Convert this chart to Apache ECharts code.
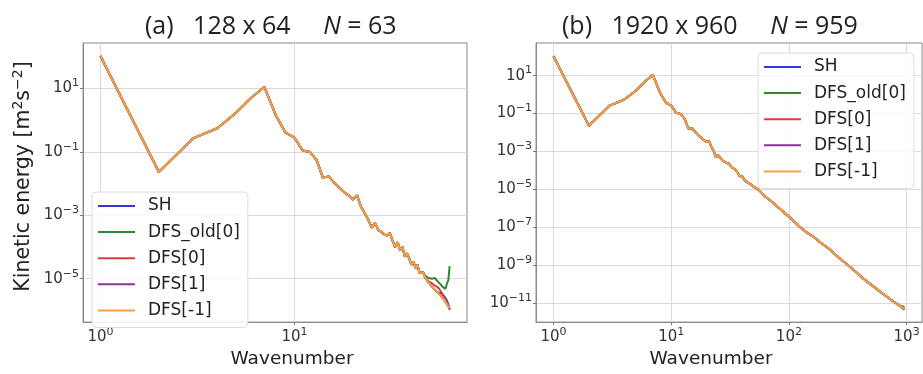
<!DOCTYPE html>
<html>
<head>
<meta charset="utf-8">
<script src="https://cdn.jsdelivr.net/npm/echarts@6/dist/echarts.min.js"></script>
<style>
html,body{margin:0;padding:0;background:#fff;}
#chart{width:923px;height:374px;}
</style>
</head>
<body>
<div id="chart"></div>
<script>
// ---------- DATA ----------
const seriesNames = ['SH', 'DFS_old[0]', 'DFS[0]', 'DFS[1]', 'DFS[-1]'];

// Panel (a): 128 x 64, N = 63
const aWavenumber = [1,2,3,4,5,6,7,8,9,10,11,12,13,14,15,16,17,18,19,20,21,22,23,24,25,26,27,28,29,30,31,32,33,34,35,36,37,38,39,40,41,42,43,44,45,46,47,48,49,50,51,52,53,54,55,56,57,58,59,60,61,62,63];
// shared part, k = 1..44
const aCommon = [1.07e2, 2.34e-2, 2.69e-1, 5.62e-1, 1.74, 5.25, 1.12e1, 1.45, 4.07e-1, 2.82e-1,
  1.12e-1, 1.0e-1, 5.5e-2, 1.55e-2, 1.7e-2, 1.07e-2, 7.6e-3, 5.4e-3, 4.27e-3, 3.16e-3,
  4.27e-3, 1.86e-3, 1.17e-3, 7.2e-4, 4.1e-4, 5.75e-4, 3.47e-4, 3.0e-4, 2.5e-4, 2.3e-4,
  2.75e-4, 1.58e-4, 1.0e-4, 1.41e-4, 7.9e-5, 1.0e-4, 5.0e-5, 6.3e-5, 4.4e-5, 2.75e-5,
  3.5e-5, 2.2e-5, 2.75e-5, 1.55e-5];
// tails, k = 45..63
const aTailSH    = [1.38e-5, 1.58e-5, 1.12e-5, 1.05e-5, 7.6e-6, 7.9e-6, 5.6e-6, 5.75e-6, 4.37e-6, 4.0e-6, 3.55e-6, 3.8e-6, 3.55e-6, 3.16e-6, 2.8e-6, 2.4e-6, 2.0e-6, 1.58e-6, 1.05e-6];
const aTailOld   = [1.38e-5, 1.58e-5, 1.26e-5, 1.12e-5, 1.05e-5, 9.5e-6, 1.0e-5, 1.1e-5, 1.05e-5, 8.9e-6, 7.9e-6, 7.1e-6, 6.3e-6, 5.5e-6, 5.0e-6, 4.8e-6, 7.1e-6, 8.9e-6, 2.5e-5];
const aTailDFS0  = [1.38e-5, 1.58e-5, 1.12e-5, 1.05e-5, 8.3e-6, 7.9e-6, 7.2e-6, 6.6e-6, 6.0e-6, 5.6e-6, 5.25e-6, 4.47e-6, 3.8e-6, 3.16e-6, 2.5e-6, 2.1e-6, 1.7e-6, 1.41e-6, 1.2e-6];
const aTailDFS1  = [1.38e-5, 1.58e-5, 1.12e-5, 1.05e-5, 7.6e-6, 7.9e-6, 5.6e-6, 5.75e-6, 4.37e-6, 4.0e-6, 3.55e-6, 3.3e-6, 2.75e-6, 2.63e-6, 2.19e-6, 2.0e-6, 1.58e-6, 1.38e-6, 1.1e-6];
const aTailDFSm1 = [1.38e-5, 1.58e-5, 1.12e-5, 1.05e-5, 7.6e-6, 7.9e-6, 5.6e-6, 5.75e-6, 4.37e-6, 4.0e-6, 3.55e-6, 3.3e-6, 2.75e-6, 2.63e-6, 2.19e-6, 2.0e-6, 1.58e-6, 1.38e-6, 1.15e-6];

// Panel (b): 1920 x 960, N = 959
const bWavenumber = [1,2,3,4,5,6,7,8,9,10,11,12,13,14,15,16,17,18,19,20,21,22,23,24,25,27,29,31,33,35,37,38,40,42,44,47,50,53,56,60,63,68,74,80,87,95,102,112,124,140,162,190,223,260,309,365,427,500,591,680,766,860,959];
const bCommon = [1.05e2, 2.29e-2, 2.63e-1, 5.5e-1, 1.58, 5.0, 1.07e1, 1.32, 3.8e-1, 2.63e-1,
  1.12e-1, 9.5e-2, 5.25e-2, 1.58e-2, 1.66e-2, 1.07e-2, 7.1e-3, 5.25e-3, 3.98e-3, 3.16e-3,
  3.55e-3, 1.66e-3, 1.05e-3, 5.0e-4, 6.3e-4, 3.55e-4, 2.63e-4, 2.24e-4, 1.41e-4, 1.12e-4,
  7.1e-5, 5.25e-5, 4.8e-5, 3.16e-5, 2.4e-5, 1.9e-5, 1.38e-5, 1.12e-5, 8.9e-6, 5.6e-6,
  4.27e-6, 2.82e-6, 1.9e-6, 1.2e-6, 7.6e-7, 4.8e-7, 3.3e-7, 1.9e-7, 1.05e-7, 5.6e-8,
  3.16e-8, 1.41e-8, 6.8e-9, 2.82e-9, 1.17e-9, 4.8e-10, 2.0e-10, 9.5e-11, 4.17e-11, 2.19e-11,
  1.26e-11, 7.9e-12];
// last point (k = 959) for SH, DFS_old[0], DFS[0], DFS[1], DFS[-1]
const bLast = [4.6e-12, 6.3e-12, 5.0e-12, 4.5e-12, 5.0e-12];

const xTicksA = [1, 10];
const yTicksA = [1e1, 1e-1, 1e-3, 1e-5];
const xTicksB = [1, 10, 100, 1000];
const yTicksB = [1e1, 1e-1, 1e-3, 1e-5, 1e-7, 1e-9, 1e-11];

// ---------- STYLE ----------
const colors = ['#3636e0', '#2b8a2b', '#e23a3a', '#8a3596', '#f2a33a'];
const FONT = 'DejaVu Sans';

const aTails = [aTailSH, aTailOld, aTailDFS0, aTailDFS1, aTailDFSm1];
function pairs(ks, vs) { return ks.map((k, i) => [k, vs[i]]); }

function sup(v) {
  const e = Math.round(Math.log10(v));
  return '{b|10}{s|' + (e < 0 ? '\u2212' + (-e) : String(e)) + '}';
}
const tickRich = {
  b: { fontFamily: FONT, fontSize: 15, color: '#333' },
  s: { fontFamily: FONT, fontSize: 11, color: '#333', padding: [0, 0, 10, 0] }
};

function xAxis(idx, min, max, ticks, namePad) {
  return {
    type: 'log', gridIndex: idx, min: min, max: max, logBase: 10,
    name: 'Wavenumber', nameLocation: 'middle', nameGap: 17,
    nameTextStyle: { fontFamily: FONT, fontSize: 18.5, color: '#222', padding: namePad },
    axisLine: { show: true, lineStyle: { color: '#8a8a8a', width: 1 } },
    axisTick: { show: true, length: 3, customValues: ticks, lineStyle: { color: '#777' } },
    axisLabel: { customValues: ticks, margin: 5, formatter: sup, rich: tickRich },
    splitLine: { show: true, lineStyle: { color: '#dadada', width: 1 } },
    minorTick: { show: false }
  };
}
function yAxis(idx, min, max, ticks, withName) {
  const ax = {
    type: 'log', gridIndex: idx, min: min, max: max, logBase: 10,
    axisLine: { show: true, lineStyle: { color: '#8a8a8a', width: 1 } },
    axisTick: { show: true, length: 3, customValues: ticks, lineStyle: { color: '#777' } },
    axisLabel: { customValues: ticks, margin: 4, formatter: sup, rich: tickRich },
    splitLine: { show: true, lineStyle: { color: '#dadada', width: 1 } }
  };
  if (withName) {
    ax.name = 'Kinetic energy [m{p|2}s{p|\u22122}]';
    ax.nameLocation = 'middle';
    ax.nameRotate = 90;
    ax.nameGap = 47;
    ax.nameTextStyle = {
      fontFamily: FONT, fontSize: 20.5, color: '#222', padding: [0, 0, 0, 12],
      rich: { p: { fontFamily: FONT, fontSize: 14, color: '#222', padding: [0, 0, 11, 0] } }
    };
  }
  return ax;
}

function legend(left, top) {
  return {
    orient: 'vertical', left: left, top: top,
    data: seriesNames,
    icon: 'rect', itemWidth: 37, itemHeight: 2, itemGap: 6.1,
    textStyle: { fontFamily: FONT, fontSize: 17, color: '#222', lineHeight: 20, padding: [0, 0, 0, 8] },
    padding: [4, 8, 7, 6],
    backgroundColor: 'rgba(255,255,255,0.85)',
    borderColor: '#dcdcdc', borderWidth: 1, borderRadius: 4
  };
}

const series = [];
seriesNames.forEach((name, i) => {
  series.push({
    name: name, type: 'line', xAxisIndex: 0, yAxisIndex: 0,
    data: pairs(aWavenumber, aCommon.concat(aTails[i])),
    symbol: 'none', color: colors[i], lineStyle: { width: 2, color: colors[i] },
    animation: false, z: 2 + i
  });
});
seriesNames.forEach((name, i) => {
  series.push({
    name: name, type: 'line', xAxisIndex: 1, yAxisIndex: 1,
    data: pairs(bWavenumber, bCommon.concat([bLast[i]])),
    symbol: 'none', color: colors[i], lineStyle: { width: 2, color: colors[i] },
    animation: false, z: 2 + i
  });
});

const titleStyle = {
  fontFamily: 'Open Sans', fontSize: 25, fontWeight: 'normal', color: '#222',
  rich: { i: { fontFamily: 'Open Sans', fontSize: 25, fontStyle: 'italic', color: '#222' } }
};

const option = {
  backgroundColor: '#fff',
  animation: false,
  title: [
    { text: '(a)   128 x 64     {i|N} = 63', left: 145, top: 14, padding: 0, textStyle: titleStyle },
    { text: '(b)   1920 x 960     {i|N} = 959', left: 562, top: 14, padding: 0, textStyle: titleStyle }
  ],
  legend: [legend(92, 192), legend(758, 53)],
  grid: [
    { left: 83, top: 43, width: 384, height: 289, show: true, borderColor: '#8a8a8a', borderWidth: 1, backgroundColor: 'transparent' },
    { left: 536, top: 43, width: 386, height: 289, show: true, borderColor: '#8a8a8a', borderWidth: 1, backgroundColor: 'transparent' }
  ],
  xAxis: [
    xAxis(0, 0.813, 77.4, xTicksA, [0, 0, 0, 34]),
    xAxis(1, 0.71, 1352, xTicksB, [0, 36, 0, 0])
  ],
  yAxis: [
    yAxis(0, 4.27e-7, 275, yTicksA, true),
    yAxis(1, 1e-12, 525, yTicksB, false)
  ],
  series: series
};

const chart = echarts.init(document.getElementById('chart'), null, { renderer: 'canvas' });
chart.setOption(option);
</script>
</body>
</html>
